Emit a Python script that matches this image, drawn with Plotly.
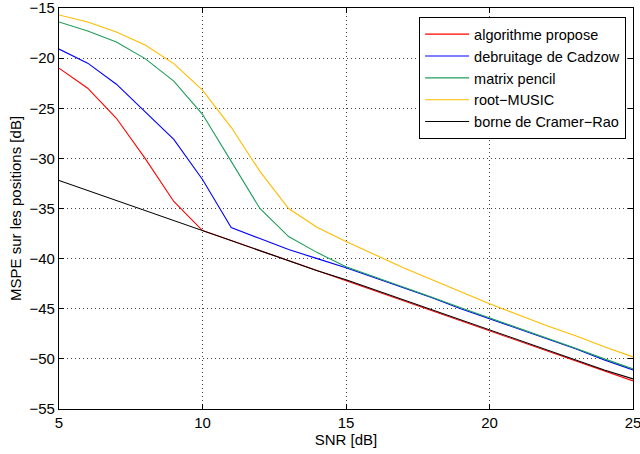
import plotly.graph_objects as go

snr = [5, 6, 7, 8, 9, 10, 11, 12, 13, 14, 15, 16, 17, 18, 19, 20, 21, 22, 23, 24, 25]

algo = [-21.0, -23.0, -26.0, -30.0, -34.3, -37.2, -38.2, -39.2, -40.25, -41.25, -42.2, -43.2, -44.2, -45.2, -46.2, -47.2, -48.2, -49.2, -50.2, -51.2, -52.2]
cadzow = [-19.1, -20.5, -22.6, -25.4, -28.1, -32.1, -36.9, -38.0, -39.1, -40.0, -40.9, -41.9, -42.9, -43.9, -45.0, -46.0, -47.0, -48.0, -49.0, -50.1, -51.1]
pencil = [-16.4, -17.3, -18.4, -20.05, -22.3, -25.6, -30.3, -35.0, -37.8, -39.4, -40.8, -41.8, -42.8, -43.85, -44.9, -45.9, -46.9, -47.9, -48.95, -50.0, -51.0]
music = [-15.7, -16.4, -17.4, -18.7, -20.55, -23.2, -26.9, -31.3, -35.0, -36.9, -38.3, -39.6, -40.9, -42.1, -43.3, -44.5, -45.6, -46.7, -47.7, -48.8, -49.8]
crb = [-32.2, -33.2, -34.2, -35.2, -36.2, -37.2, -38.2, -39.2, -40.2, -41.2, -42.1, -43.1, -44.1, -45.1, -46.1, -47.1, -48.1, -49.1, -50.1, -51.1, -52.0]

names = ["algorithme propose", "debruitage de Cadzow", "matrix pencil", "root\u2212MUSIC", "borne de Cramer\u2212Rao"]
colors = ["#ff0000", "#0000ff", "#1f9e5a", "#ffbb00", "#000000"]
series = [algo, cadzow, pencil, music, crb]

xticks = [5, 10, 15, 20, 25]
yticks = [-55, -50, -45, -40, -35, -30, -25, -20, -15]

fig = go.Figure()
for name, col, ys in zip(names, colors, series):
    fig.add_trace(go.Scatter(x=snr, y=ys, mode="lines", name=name,
                             line=dict(color=col, width=1.1)))

font = "Liberation Sans, Arial, Helvetica, sans-serif"
axis_common = dict(
    showline=True, linecolor="black", linewidth=1.2, mirror="allticks",
    ticks="inside", ticklen=5, tickcolor="black",
    showgrid=True, gridcolor="#444444", griddash="1px,3px", gridwidth=1,
    zeroline=False, automargin=False, ticklabeloverflow="allow",
    tickfont=dict(size=15, color="black", family=font),
)

fig.update_layout(
    width=640, height=454,
    margin=dict(l=59, r=7, t=8, b=45),
    paper_bgcolor="white", plot_bgcolor="white",
    font=dict(family=font, size=15, color="black"),
    showlegend=True,
    legend=dict(x=0.988, y=0.977, xanchor="right", yanchor="top",
                bgcolor="white", bordercolor="black", borderwidth=1,
                font=dict(size=14.5, family=font), tracegroupgap=0,
                itemwidth=44),
    xaxis=dict(range=[5, 25], tickvals=xticks, title=dict(text="SNR [dB]", standoff=2, font=dict(size=15)), **axis_common),
    yaxis=dict(range=[-55, -15], tickvals=yticks, title=dict(text="MSPE sur les positions [dB]", standoff=4, font=dict(size=15)), **axis_common),
)

fig.write_html("out.html", config={"displayModeBar": False},
               post_script="document.body.style.margin='0';document.body.style.overflow='hidden';")
